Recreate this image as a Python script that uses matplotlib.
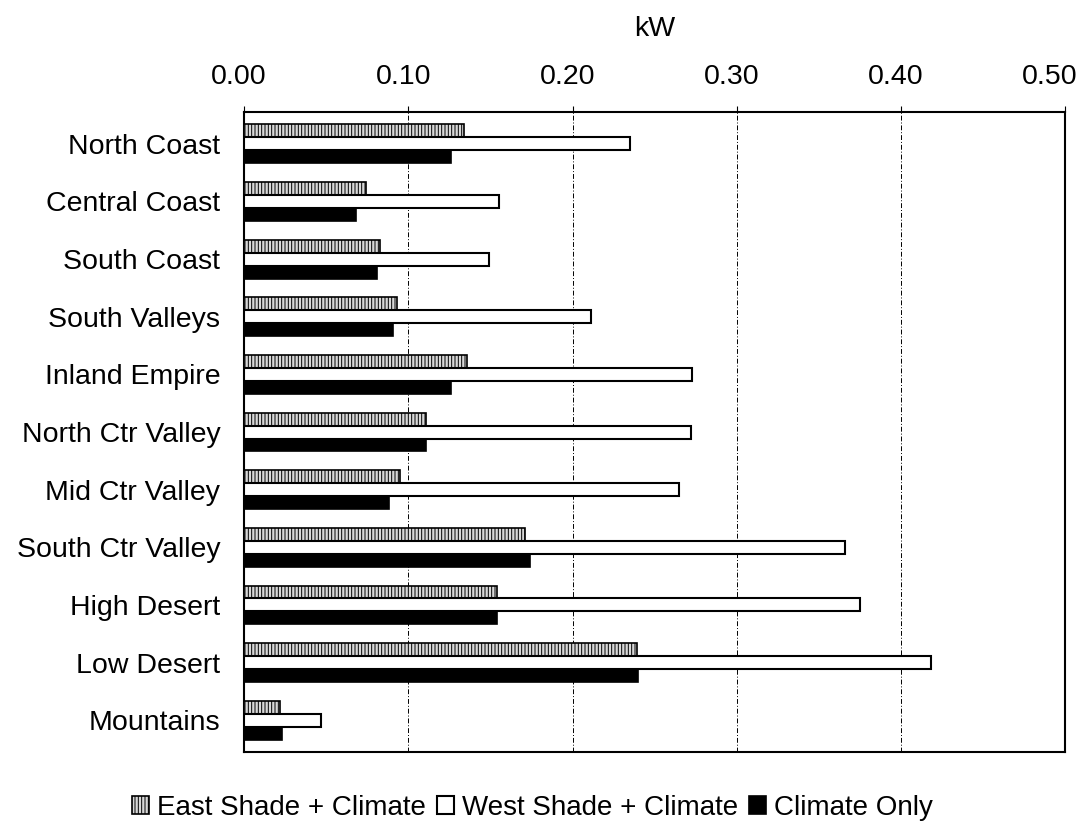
import numpy as np
import matplotlib
matplotlib.use("Agg")
import matplotlib.pyplot as plt
import matplotlib.transforms as mtransforms

plt.rcParams['font.family'] = ['Liberation Sans', 'DejaVu Sans']
plt.rcParams['hatch.linewidth'] = 0.7

regions = ['North Coast', 'Central Coast', 'South Coast', 'South Valleys',
           'Inland Empire', 'North Ctr Valley', 'Mid Ctr Valley',
           'South Ctr Valley', 'High Desert', 'Low Desert', 'Mountains']
east_shade = [0.134, 0.074, 0.083, 0.093, 0.136, 0.111, 0.095, 0.171, 0.154, 0.239, 0.022]
west_shade = [0.235, 0.155, 0.149, 0.211, 0.273, 0.272, 0.265, 0.366, 0.375, 0.418, 0.047]
climate_only = [0.126, 0.068, 0.081, 0.091, 0.126, 0.111, 0.088, 0.174, 0.154, 0.240, 0.023]
xticks = [0.0, 0.1, 0.2, 0.3, 0.4, 0.5]

fig = plt.figure(figsize=(10.87, 8.3), dpi=100)
ax = fig.add_axes([0.2245, 0.094, 0.7555, 0.771])

y = np.arange(len(regions))
h = 0.225
ax.barh(y - h, east_shade, height=h, facecolor='#d8d8d8', edgecolor='black',
        hatch='|||||', linewidth=1.2, label='East Shade + Climate', zorder=3)
ax.barh(y, west_shade, height=h, facecolor='white', edgecolor='black',
        linewidth=1.5, label='West Shade + Climate', zorder=3)
ax.barh(y + h, climate_only, height=h, facecolor='black', edgecolor='black',
        linewidth=1.2, label='Climate Only', zorder=3)

ax.set_xlim(0, 0.5)
ax.set_ylim(len(regions) - 0.45, -0.55)
ax.set_yticks(y)
ax.set_yticklabels(regions, fontsize=20.5)
ax.tick_params(axis='y', length=0, pad=17)

ax.xaxis.tick_top()
ax.xaxis.set_label_position('top')
ax.set_xticks(xticks)
ax.set_xticklabels(['%.2f' % v for v in xticks], fontsize=20.5)
ax.tick_params(axis='x', length=4, width=0.8, pad=12)
ax.set_xlabel('kW', fontsize=20.5, labelpad=20)

# labels sit a little left of their gridlines, the last one more so
for i, lab in enumerate(ax.get_xticklabels()):
    dx = -16 if i == len(xticks) - 1 else -5
    lab.set_transform(lab.get_transform() +
                      mtransforms.ScaledTranslation(dx / 100, 0, fig.dpi_scale_trans))

ax.grid(axis='x', color='black', linestyle=(0, (5, 2, 1, 2)), linewidth=0.7, zorder=0)
for s in ax.spines.values():
    s.set_linewidth(1.5)
    s.set_color('black')

fig.legend(loc='center', bbox_to_anchor=(0.49, 0.027), ncol=3, frameon=False,
           fontsize=20, handlelength=0.6, handleheight=0.6, handletextpad=0.3,
           columnspacing=0.4)

fig.savefig('out.png', dpi=100)
